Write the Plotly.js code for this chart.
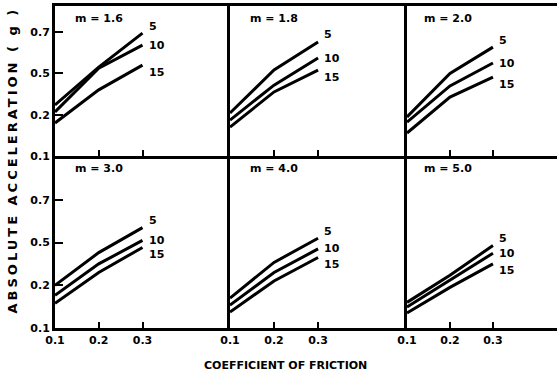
<!DOCTYPE html>
<html>
<head>
<meta charset="utf-8">
<script src="https://cdn.plot.ly/plotly-3.0.1.min.js"></script>
<style>html,body{margin:0;padding:0;background:#fff;}#chart{width:559px;height:378px;}</style>
</head>
<body>
<div id="chart"></div>
<script>
// ---- data ----
const friction = [0.1, 0.2, 0.3];
const panelLabels = ["m = 1.6", "m = 1.8", "m = 2.0", "m = 3.0", "m = 4.0", "m = 5.0"];
const seriesNames = ["5", "10", "15"];

const m16_s5 = [0.347, 0.530, 0.695];
const m16_s10 = [0.313, 0.525, 0.637];
const m16_s15 = [0.260, 0.420, 0.540];

const m18_s5 = [0.308, 0.516, 0.652];
const m18_s10 = [0.274, 0.443, 0.574];
const m18_s15 = [0.240, 0.410, 0.516];

const m20_s5 = [0.289, 0.500, 0.627];
const m20_s10 = [0.264, 0.439, 0.550];
const m20_s15 = [0.211, 0.385, 0.482];

const m30_s5 = [0.300, 0.453, 0.570];
const m30_s10 = [0.253, 0.400, 0.510];
const m30_s15 = [0.216, 0.360, 0.477];

const m40_s5 = [0.240, 0.407, 0.520];
const m40_s10 = [0.207, 0.360, 0.470];
const m40_s15 = [0.175, 0.320, 0.430];

const m50_s5 = [0.220, 0.347, 0.486];
const m50_s10 = [0.198, 0.323, 0.450];
const m50_s15 = [0.170, 0.290, 0.400];

const xTickVals = [0.1, 0.2, 0.3];
const xTickText = ["0.1", "0.2", "0.3"];
const yTickVals = [0.1, 0.3, 0.5, 0.7];
const yTickText = ["0.1", "0.2", "0.5", "0.7"];

const xTitle = "COEFFICIENT OF FRICTION";
const yTitle = "ABSOLUTE ACCELERATION ( g )";

// ---- build ----
const panels = [
  [m16_s5, m16_s10, m16_s15],
  [m18_s5, m18_s10, m18_s15],
  [m20_s5, m20_s10, m20_s15],
  [m30_s5, m30_s10, m30_s15],
  [m40_s5, m40_s10, m40_s15],
  [m50_s5, m50_s10, m50_s15]
];

const W = 559, H = 378;
const colPx = [[55, 230], [230, 407], [407, 557]];
const rowPx = [[6, 156], [156, 328]];
const xRanges = [[0.1, 0.5], [0.1, 0.502], [0.1, 0.449]];
const yRanges = [[0.1, 0.826], [0.1, 0.905]];

const font = {family: "DejaVu Sans", size: 11, color: "#000", weight: "bold"};
const traces = [];
const annotations = [];
const layout = {
  width: W, height: H,
  margin: {l: 0, r: 0, t: 0, b: 0},
  paper_bgcolor: "#fff", plot_bgcolor: "#fff",
  showlegend: false,
  font: font,
  annotations: annotations
};

const labelShift = [7, 0, -7];

panels.forEach((series, i) => {
  const r = Math.floor(i / 3), c = i % 3;
  const n = i + 1;
  const xa = "x" + (n === 1 ? "" : n), ya = "y" + (n === 1 ? "" : n);
  const xk = "xaxis" + (n === 1 ? "" : n), yk = "yaxis" + (n === 1 ? "" : n);
  layout[xk] = {
    domain: [colPx[c][0] / W, colPx[c][1] / W],
    anchor: ya, range: xRanges[c],
    showgrid: false, zeroline: false,
    showline: true, linecolor: "#000", linewidth: 3, mirror: r === 0,
    ticks: "inside", ticklen: 6, tickwidth: 2, tickcolor: "#000",
    tickvals: xTickVals, ticktext: xTickText,
    showticklabels: r === 1,
    tickfont: {family: "DejaVu Sans", size: 11, color: "#000", weight: "bold"}
  };
  const showY = c === 0;
  layout[yk] = {
    domain: [1 - rowPx[r][1] / H, 1 - rowPx[r][0] / H],
    anchor: xa, range: yRanges[r],
    showgrid: false, zeroline: false,
    showline: true, linecolor: "#000", linewidth: 3,
    ticks: showY ? "inside" : "", ticklen: 8, tickwidth: 2, tickcolor: "#000",
    tickvals: yTickVals, ticktext: yTickText,
    showticklabels: showY,
    tickfont: {family: "DejaVu Sans", size: 11, color: "#000", weight: "bold"}
  };
  series.forEach((ys, k) => {
    traces.push({
      x: friction, y: ys, xaxis: xa, yaxis: ya,
      type: "scatter", mode: "lines",
      line: {color: "#000", width: 3},
      hoverinfo: "skip"
    });
    annotations.push({
      xref: xa, yref: ya,
      x: friction[friction.length - 1], y: ys[ys.length - 1],
      text: seriesNames[k], showarrow: false,
      xanchor: "left", yanchor: "middle", xshift: 4, yshift: labelShift[k],
      font: {family: "DejaVu Sans", size: 11, color: "#000", weight: "bold"}
    });
  });
  annotations.push({
    xref: xa + " domain", yref: ya + " domain",
    x: 0.1, y: 1, yshift: -4,
    xanchor: "left", yanchor: "top",
    text: panelLabels[i], showarrow: false,
    font: {family: "DejaVu Sans", size: 11, color: "#000", weight: "bold"}
  });
});

annotations.push({
  xref: "paper", yref: "paper", x: 12 / W, y: 1 - 160 / H,
  text: yTitle, textangle: -90, showarrow: false,
  xanchor: "center", yanchor: "middle",
  font: {family: "DejaVu Sans", size: 13, color: "#000", weight: "bold"}
});
annotations.push({
  xref: "paper", yref: "paper", x: 285 / W, y: 1 - 365 / H,
  text: xTitle, showarrow: false,
  xanchor: "center", yanchor: "middle",
  font: {family: "DejaVu Sans", size: 11, color: "#000", weight: "bold"}
});

Plotly.newPlot("chart", traces, layout, {staticPlot: true, displayModeBar: false}).then(() => {
  document.querySelectorAll("#chart .annotation-text").forEach(t => {
    if (t.textContent === yTitle) t.style.letterSpacing = "3px";
  });
});
</script>
</body>
</html>
